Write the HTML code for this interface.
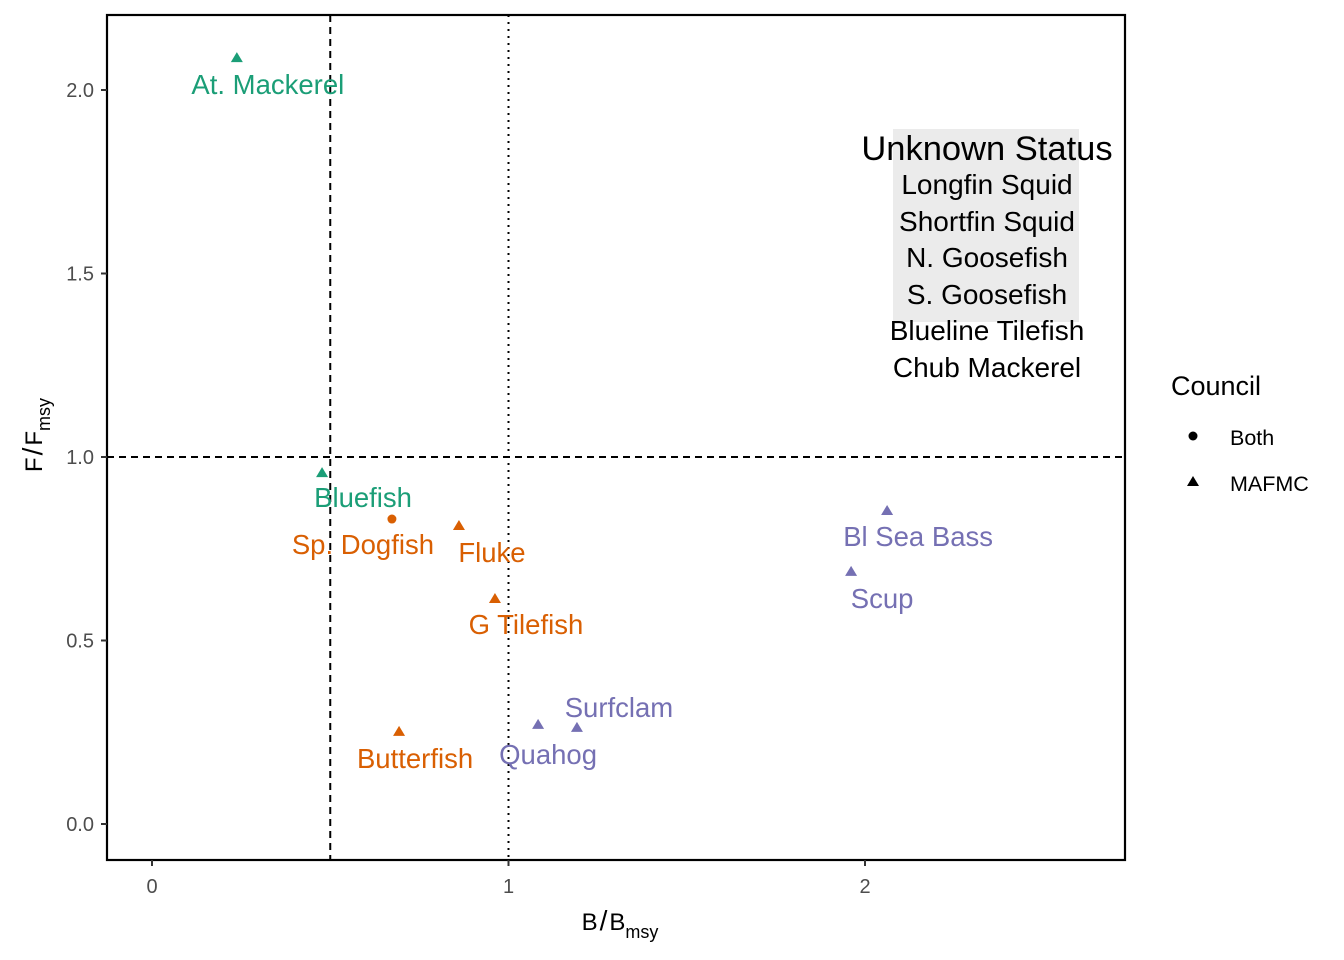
<!DOCTYPE html>
<html><head><meta charset="utf-8"><style>
body{margin:0;background:#fff}
svg{display:block;font-family:"Liberation Sans",Arial,sans-serif}
</style></head><body>
<svg id="chart" width="1344" height="960">
<rect x="0" y="0" width="1344" height="960" fill="#fff"/>
<g id="grid"></g>
<g id="marks"></g>
<rect x="893" y="129" width="186" height="193" fill="#EBEBEB"/>
<g font-size="28" text-anchor="middle" fill="#000">
<text x="987" y="160" font-size="34.5">Unknown Status</text>
<text x="987" y="194">Longfin Squid</text>
<text x="987" y="231">Shortfin Squid</text>
<text x="987" y="267">N. Goosefish</text>
<text x="987" y="304">S. Goosefish</text>
<text x="987" y="340">Blueline Tilefish</text>
<text x="987" y="377">Chub Mackerel</text>
</g>
<rect x="107" y="15" width="1018" height="845" fill="none" stroke="#000" stroke-width="2.2"/>
<g id="axes"></g>
<text x="620" y="930" font-size="24" text-anchor="middle" fill="#000">B<tspan dx="2" dy="0" font-size="28">/</tspan><tspan dx="2">B</tspan><tspan font-size="18" dy="8">msy</tspan></text>
<text transform="translate(42,435) rotate(-90)" font-size="24" text-anchor="middle" fill="#000">F<tspan font-size="28" dx="2">/</tspan><tspan dx="2">F</tspan><tspan font-size="18" dy="8">msy</tspan></text>
<g>
<text x="1171" y="395" font-size="27" fill="#000">Council</text>
<circle cx="1193" cy="436" r="4.5" fill="#000"/>
<text x="1230" y="445" font-size="21.5" fill="#000">Both</text>
<polygon points="1193,476 1199,486 1187,486" fill="#000"/>
<text x="1230" y="491" font-size="21.5" fill="#000">MAFMC</text>
</g>
</svg>
<script>
const names=["At. Mackerel","Bluefish","Sp. Dogfish","Fluke","G Tilefish","Butterfish","Quahog","Surfclam","Bl Sea Bass","Scup"];
const bValues=[0.238,0.477,0.673,0.861,0.962,0.693,1.083,1.192,2.062,1.961];
const fValues=[2.087,0.956,0.831,0.812,0.613,0.251,0.270,0.262,0.853,0.687];
const councils=["MAFMC","MAFMC","Both","MAFMC","MAFMC","MAFMC","MAFMC","MAFMC","MAFMC","MAFMC"];
const groups=[0,0,1,1,1,1,2,2,2,2];
const labelDx=[31,41,-29,33,31,16,10,42,31,31];
const labelDy=[36,34,35,36,35,36,39,-11,35,36];
const xTicks=[0,1,2];
const yTicks=[0,0.5,1,1.5,2];
const yTickLabels=["0.0","0.5","1.0","1.5","2.0"];
const colors=["#1B9E77","#D95F02","#7570B3"];
const X=v=>152+v*356.5, Y=v=>824-v*367;
const NS="http://www.w3.org/2000/svg";
function el(t,a,p){const e=document.createElementNS(NS,t);for(const k in a)e.setAttribute(k,a[k]);document.getElementById(p).appendChild(e);return e;}
let e;
e=el("line",{x1:X(0.5),x2:X(0.5),y1:15,y2:860,stroke:"#000","stroke-width":2,"stroke-dasharray":"7,5"},"grid");


e=el("line",{x1:X(1),x2:X(1),y1:15,y2:860,stroke:"#000","stroke-width":2,"stroke-dasharray":"2,5"},"grid");


e=el("line",{x1:107,x2:1125,y1:Y(1),y2:Y(1),stroke:"#000","stroke-width":2,"stroke-dasharray":"7,5"},"grid");


names.forEach((n,i)=>{
 const x=X(bValues[i]),y=Y(fValues[i]),c=colors[groups[i]];
 let m;
 if(councils[i]==="Both") m=el("circle",{cx:x,cy:y,r:4.5,fill:c},"marks");
 else m=el("polygon",{points:`${x},${y-6} ${x+6},${y+4} ${x-6},${y+4}`,fill:c},"marks");
 
 
 const t=el("text",{x:x+labelDx[i],y:y+labelDy[i],fill:c,"font-size":27.5,"text-anchor":"middle"},"marks");
 t.textContent=n;
 
 
});
xTicks.forEach(v=>{
 const l=el("line",{x1:X(v),x2:X(v),y1:860,y2:866,stroke:"#333","stroke-width":2},"axes");
 
 
 const t=el("text",{x:X(v),y:893,fill:"#4D4D4D","font-size":20,"text-anchor":"middle"},"axes");
 t.textContent=v;
 
 
});
yTicks.forEach((v,i)=>{
 const l=el("line",{x1:101,x2:107,y1:Y(v),y2:Y(v),stroke:"#333","stroke-width":2},"axes");
 
 
 const t=el("text",{x:94,y:Y(v)+7,fill:"#4D4D4D","font-size":20,"text-anchor":"end"},"axes");
 t.textContent=yTickLabels[i];
 
 
});
</script>
</body></html>
